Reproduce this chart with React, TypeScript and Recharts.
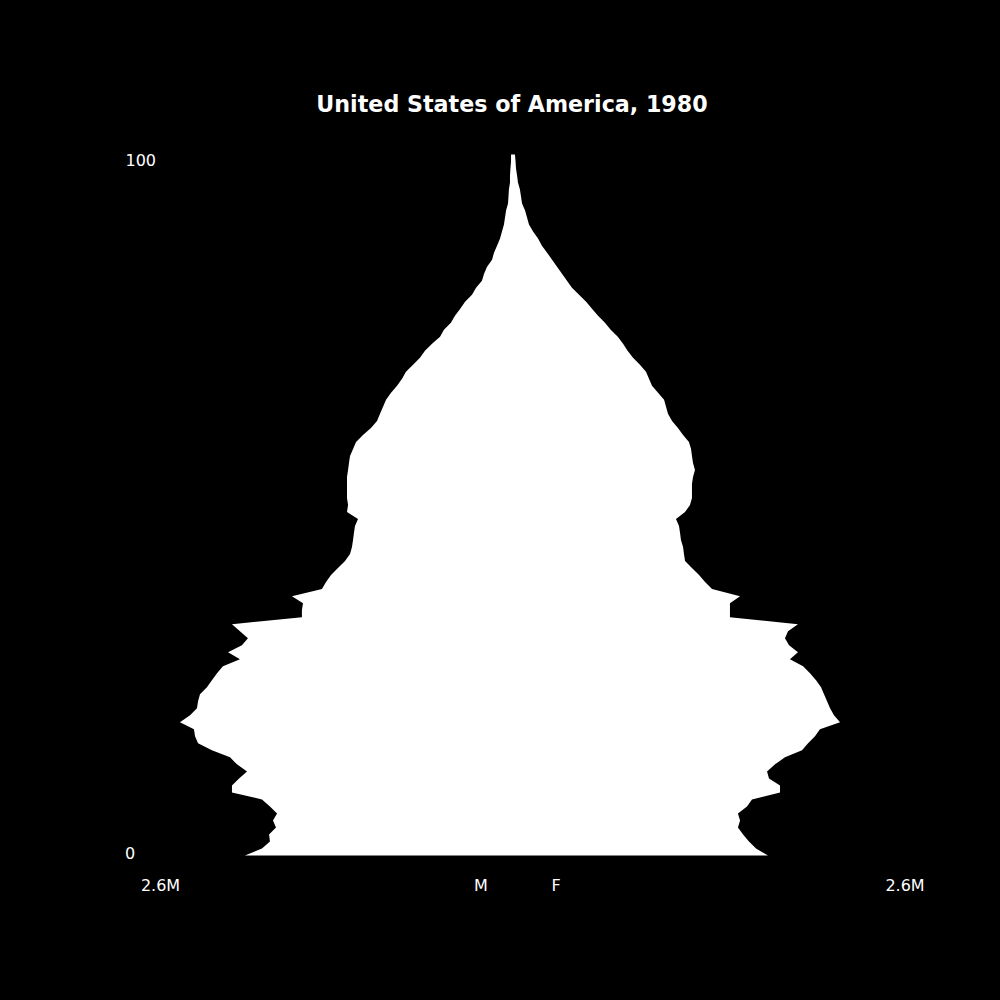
import React from "react";
import { ComposedChart, Area, XAxis, YAxis } from "recharts";

// Ages 0..100 (single years)
const ages: number[] = Array.from({ length: 101 }, (_, i) => i);

// Male population by single year of age, thousands
const male: number[] = [
  1778, 1665, 1612, 1618, 1572, 1592, 1565, 1612, 1665, 1864,
  1864, 1817, 1764, 1831, 1877, 1997, 2089, 2109, 2116, 2209,
  2142, 2096, 2089, 2076, 2030, 1997, 1963, 1924, 1811, 1890,
  1798, 1758, 1811, 1864, 1400, 1400, 1393, 1466, 1267, 1240,
  1207, 1161, 1114, 1081, 1068, 1061, 1055, 1048, 1028, 1101,
  1094, 1101, 1101, 1101, 1101, 1094, 1088, 1081, 1061, 1041,
  995, 942, 902, 882, 862, 842, 809, 769, 736, 710,
  663, 617, 584, 537, 484, 458, 412, 385, 350, 318,
  272, 245, 206, 192, 172, 139, 126, 106, 86, 73,
  60, 53, 46, 33, 30, 27, 20, 20, 17, 13,
  13,
];

// Female population by single year of age, thousands
const female: number[] = [
  1691, 1612, 1565, 1526, 1492, 1506, 1492, 1552, 1585, 1771,
  1771, 1698, 1685, 1738, 1804, 1917, 1957, 2003, 2036, 2169,
  2129, 2103, 2083, 2063, 2043, 2010, 1970, 1924, 1837, 1890,
  1831, 1804, 1824, 1890, 1439, 1439, 1439, 1506, 1320, 1274,
  1234, 1187, 1141, 1134, 1128, 1114, 1108, 1101, 1081, 1141,
  1174, 1187, 1187, 1187, 1194, 1207, 1194, 1187, 1181, 1167,
  1128, 1094, 1055, 1028, 1015, 1002, 962, 922, 902, 882,
  842, 796, 760, 730, 695, 648, 610, 564, 524, 485,
  438, 391, 358, 325, 292, 259, 226, 192, 166, 133,
  106, 93, 80, 60, 53, 46, 33, 27, 20, 17,
  13,
];

const title = "United States of America, 1980";
const ageTickLabels: string[] = ["100", "0"];
const bottomLabels: string[] = ["2.6M", "M", "F", "2.6M"];
const xDomainMax = 2600; // thousands

const data = ages.map((age, i) => ({
  age,
  male: -male[i],
  female: female[i],
}));

export default function App() {
  const font = "'DejaVu Sans', sans-serif";
  return (
    <div
      style={{
        position: "absolute",
        left: 0,
        top: 0,
        width: 1000,
        height: 1000,
        background: "#000000",
        overflow: "hidden",
      }}
    >
      <ComposedChart
        width={1000}
        height={1000}
        data={data}
        layout="vertical"
        margin={{ top: 154.5, bottom: 144.5, left: 121, right: 95 }}
        style={{ position: "absolute", left: 0, top: 0 }}
      >
        <XAxis type="number" domain={[-xDomainMax, xDomainMax]} hide />
        <YAxis type="number" dataKey="age" domain={[0, 100]} reversed hide />
        <Area
          type="linear"
          dataKey="male"
          fill="#ffffff"
          fillOpacity={1}
          stroke="none"
          isAnimationActive={false}
          dot={false}
          activeDot={false}
        />
        <Area
          type="linear"
          dataKey="female"
          fill="#ffffff"
          fillOpacity={1}
          stroke="none"
          isAnimationActive={false}
          dot={false}
          activeDot={false}
        />
      </ComposedChart>
      <svg
        width={1000}
        height={1000}
        style={{ position: "absolute", left: 0, top: 0, pointerEvents: "none" }}
      >
        <text
          x={512}
          y={111.7}
          textAnchor="middle"
          fill="#ffffff"
          fontFamily={font}
          fontWeight="bold"
          fontSize={22.2}
        >
          {title}
        </text>
        <text x={125.5} y={165.7} fill="#ffffff" fontFamily={font} fontSize={16}>
          {ageTickLabels[0]}
        </text>
        <text x={125} y={859} fill="#ffffff" fontFamily={font} fontSize={16}>
          {ageTickLabels[1]}
        </text>
        <text x={160.5} y={890.7} textAnchor="middle" fill="#ffffff" fontFamily={font} fontSize={16}>
          {bottomLabels[0]}
        </text>
        <text x={481} y={890.7} textAnchor="middle" fill="#ffffff" fontFamily={font} fontSize={16}>
          {bottomLabels[1]}
        </text>
        <text x={556.2} y={890.7} textAnchor="middle" fill="#ffffff" fontFamily={font} fontSize={16}>
          {bottomLabels[2]}
        </text>
        <text x={905} y={890.7} textAnchor="middle" fill="#ffffff" fontFamily={font} fontSize={16}>
          {bottomLabels[3]}
        </text>
      </svg>
    </div>
  );
}
